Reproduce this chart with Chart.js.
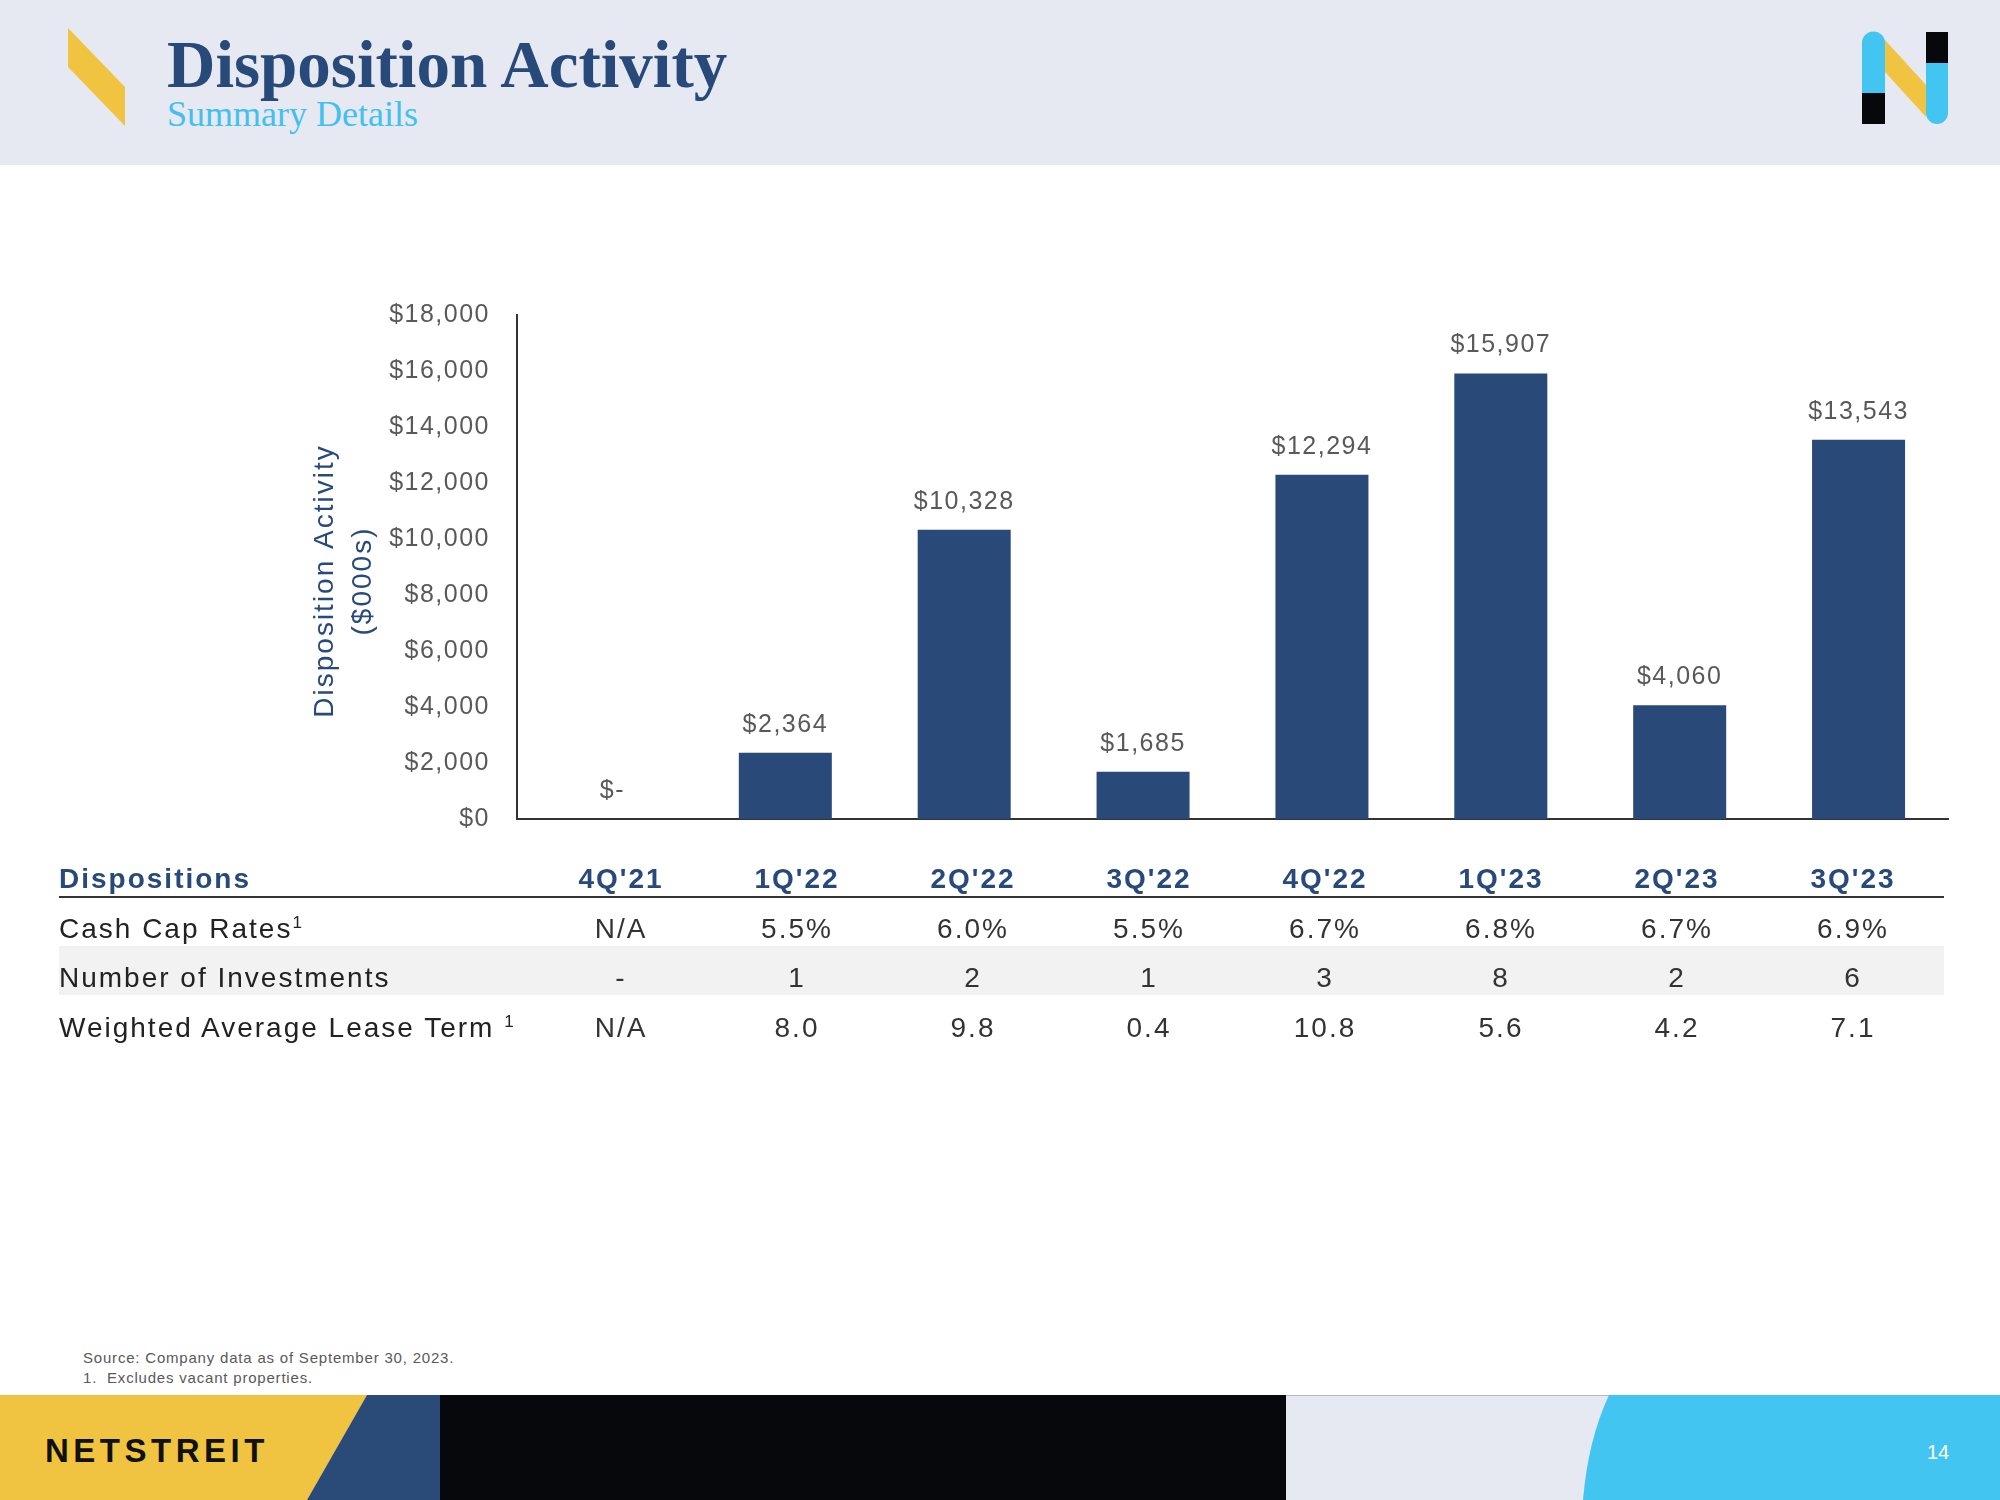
<!DOCTYPE html>
<html>
<head>
<meta charset="utf-8">
<script src="https://cdn.jsdelivr.net/npm/chart.js@4.4.0/dist/chart.umd.min.js"></script>
<style>
  body { margin: 0; width: 2000px; height: 1500px; position: relative; overflow: hidden; background: #fff; font-family: "Liberation Sans", Arial, sans-serif; }
  .abs { position: absolute; }
  .header { left: 0; top: 0; width: 2000px; height: 165px; background: #e6e9f1; }
  .title { left: 167px; top: 31px; font: bold 67px/67px "Liberation Serif", Georgia, serif; color: #284a7a; white-space: nowrap; }
  .subtitle { left: 167px; top: 96px; font: 36px/36px "Liberation Serif", Georgia, serif; color: #42c0ee; white-space: nowrap; }
  .row { left: 0; width: 2000px; height: 50px; line-height: 50px; font-size: 28px; letter-spacing: 2px; color: #222; white-space: nowrap; }
  .row .lbl { position: absolute; left: 59px; }
  .row .cell { position: absolute; width: 170px; text-align: center; color: #333; }
  .row.head { font-weight: bold; color: #284a7a; }
  .row.head .cell { color: #284a7a; }
  sup { font-size: 17px; vertical-align: 0; position: relative; top: -10px; letter-spacing: 0; }
  .note { left: 83px; font-size: 15px; letter-spacing: 0.8px; color: #595959; white-space: nowrap; }
</style>
</head>
<body>
<div class="abs header"></div>
<svg class="abs" style="left:0;top:0" width="2000" height="170">
  <polygon points="68,28 125,87 125,126 68,67" fill="#f0c441"/>
  <path d="M1862,43 A11.5,11.5 0 0 1 1885,43 L1885,93 L1862,93 Z" fill="#42c5f0"/>
  <rect x="1862" y="93" width="23" height="31" fill="#07080c"/>
  <polygon points="1885,40 1926,85 1926,117 1885,72" fill="#f0c441"/>
  <rect x="1926" y="32" width="22" height="31" fill="#07080c"/>
  <path d="M1926,63 L1948,63 L1948,113 A11,11 0 0 1 1926,113 Z" fill="#42c5f0"/>
</svg>
<div class="abs title">Disposition Activity</div>
<div class="abs subtitle">Summary Details</div>

<div class="abs" style="left:300px;top:273px;width:1700px;height:588px;">
  <canvas id="dispChart"></canvas>
</div>

<div class="abs" style="left:59px;top:946px;width:1885px;height:49px;background:#f2f2f2;"></div>
<div class="abs" style="left:59px;top:896px;width:1885px;height:2px;background:#333;"></div>
<div id="table"></div>

<div class="abs note" style="top:1349px;">Source: Company data as of September 30, 2023.</div>
<div class="abs note" style="top:1369px;">1.&nbsp; Excludes vacant properties.</div>

<svg class="abs" style="left:0;top:1395px" width="2000" height="105">
  <rect x="0" y="0" width="2000" height="105" fill="#e6e9f1"/>
  <line x1="1286" y1="0.5" x2="2000" y2="0.5" stroke="#b4b9c4" stroke-width="1"/>
  <polygon points="0,0 367,0 307,105 0,105" fill="#f0c441"/>
  <polygon points="367,0 440,0 440,105 307,105" fill="#2a4a78"/>
  <rect x="440" y="0" width="846" height="105" fill="#07080c"/>
  <path d="M1609,0 Q1588,45 1583,105 L2000,105 L2000,0 Z" fill="#42c5f0"/>
  <text x="45" y="67" font-family="Liberation Sans, Arial, sans-serif" font-weight="bold" font-size="33" letter-spacing="4.5" fill="#111">NETSTREIT</text>
  <text x="1927" y="64" font-family="Liberation Sans, Arial, sans-serif" font-size="20" fill="#fff">14</text>
</svg>

<script>
// chart data
const quarters = ["4Q'21", "1Q'22", "2Q'22", "3Q'22", "4Q'22", "1Q'23", "2Q'23", "3Q'23"];
const dispositionValues = [0, 2364, 10328, 1685, 12294, 15907, 4060, 13543];
const yAxisMax = 18000;
const yAxisStep = 2000;
const yTitle = ['Disposition Activity', '($000s)'];

// table rows under the chart
const cashCapRates = ['N/A', '5.5%', '6.0%', '5.5%', '6.7%', '6.8%', '6.7%', '6.9%'];
const investmentCounts = ['-', '1', '2', '1', '3', '8', '2', '6'];
const leaseTerms = ['N/A', '8.0', '9.8', '0.4', '10.8', '5.6', '4.2', '7.1'];

const money = v => v === 0 ? '$-' : '$' + v.toLocaleString('en-US');

// --- table ---
const rows = [
    { label: 'Dispositions', cells: quarters, cls: 'row head', top: 854 },
    { label: 'Cash Cap Rates<sup>1</sup>', cells: cashCapRates, cls: 'row', top: 904 },
    { label: 'Number of Investments', cells: investmentCounts, cls: 'row', top: 953 },
    { label: 'Weighted Average Lease Term <sup>1</sup>', cells: leaseTerms, cls: 'row', top: 1003 }
];
const tableEl = document.getElementById('table');
rows.forEach(r => {
    const div = document.createElement('div');
    div.className = 'abs ' + r.cls;
    div.style.top = r.top + 'px';
    let html = '<span class="lbl">' + r.label + '</span>';
    r.cells.forEach((c, i) => {
        const cx = 621 + 176 * i;
        html += '<span class="cell" style="left:' + (cx - 85) + 'px">' + c + '</span>';
    });
    div.innerHTML = html;
    tableEl.appendChild(div);
});

// --- chart ---
const spacing = {
    id: 'spacing',
    beforeDraw(chart) { chart.ctx.letterSpacing = '1.5px'; }
};

// y title drawn by hand so it can sit a bit below the axis middle like the original
const axisTitle = {
    id: 'axisTitle',
    afterDraw(chart) {
        const ctx = chart.ctx;
        const y = chart.scales.y;
        const cy = (y.top + y.bottom) / 2 + 14;
        ctx.save();
        ctx.letterSpacing = '2px';
        ctx.font = '28px "Liberation Sans", Arial, sans-serif';
        ctx.fillStyle = '#284a7a';
        ctx.textAlign = 'center';
        ctx.textBaseline = 'middle';
        ctx.translate(y.left + 25, cy);
        ctx.rotate(-Math.PI / 2);
        yTitle.forEach((t, i) => ctx.fillText(t, 0, i * 38));
        ctx.restore();
    }
};

const barLabels = {
    id: 'barLabels',
    afterDatasetsDraw(chart) {
        const ctx = chart.ctx;
        const meta = chart.getDatasetMeta(0);
        ctx.save();
        ctx.letterSpacing = '1.5px';
        ctx.font = '25px "Liberation Sans", Arial, sans-serif';
        ctx.fillStyle = '#595959';
        ctx.textAlign = 'center';
        ctx.textBaseline = 'middle';
        meta.data.forEach((bar, i) => {
            const v = dispositionValues[i];
            ctx.fillText(money(v), bar.x + (v === 0 ? 6 : 0), bar.y - 28);
        });
        ctx.restore();
    }
};

new Chart(document.getElementById('dispChart'), {
    type: 'bar',
    data: {
        labels: quarters,
        datasets: [{ data: dispositionValues, backgroundColor: '#294a78', barPercentage: 0.52, categoryPercentage: 1 }]
    },
    options: {
        responsive: true, maintainAspectRatio: false, animation: false,
        layout: { padding: { top: 25, right: 52, bottom: 12, left: 0 } },
        plugins: { legend: { display: false }, tooltip: { enabled: false } },
        scales: {
            x: {
                ticks: { display: false },
                grid: { display: false, drawTicks: false },
                border: { display: true, color: '#333', width: 2 },
                afterFit(s) { s.height = 0; }
            },
            y: {
                min: 0, max: yAxisMax,
                ticks: { stepSize: yAxisStep, padding: 27, color: '#595959', font: { family: '"Liberation Sans", Arial, sans-serif', size: 25 }, callback: v => '$' + v.toLocaleString('en-US') },
                grid: { display: false, drawTicks: false },
                border: { display: true, color: '#333', width: 2 },
                afterFit(s) { s.width = 217; }
            }
        }
    },
    plugins: [spacing, axisTitle, barLabels]
});
</script>
</body>
</html>
